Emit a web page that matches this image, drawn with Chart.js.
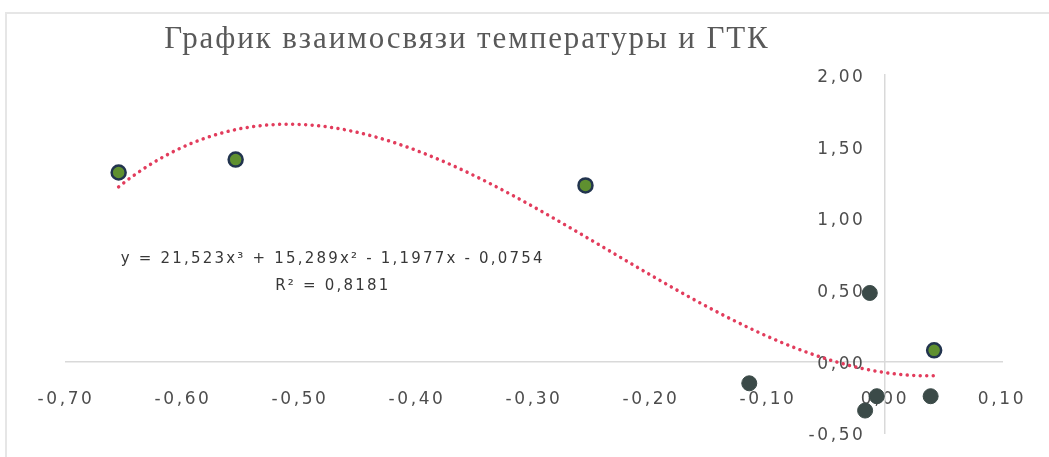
<!DOCTYPE html>
<html>
<head>
<meta charset="utf-8">
<script src="https://cdn.jsdelivr.net/npm/chart.js@4"></script>
<style>
  html, body { margin: 0; padding: 0; background: #fff; }
  #wrap { position: relative; width: 1049px; height: 457px; overflow: hidden; }
  #frame { position: absolute; left: 5px; top: 12px; right: -10px; bottom: -10px;
           border-top: 2px solid #e6e6e6; border-left: 2px solid #e6e6e6; }
  canvas { position: absolute; left: 0; top: 0; }
</style>
</head>
<body>
<div id="wrap"><div id="frame"></div><canvas id="c" width="1049" height="457"></canvas></div>
<script>
// Chart text
const chartTitle = 'График взаимосвязи температуры и ГТК';
const equationText = 'y = 21,523x³ + 15,289x² - 1,1977x - 0,0754';
const rSquaredText = 'R² = 0,8181';

// Observations: anomaly of temperature (x) vs. ГТК (y)
const greenX = [-0.655, -0.555, -0.256, 0.042];
const greenY = [1.32, 1.41, 1.23, 0.08];
const darkX = [-0.116, -0.013, -0.017, -0.007, 0.039];
const darkY = [-0.15, 0.48, -0.34, -0.24, -0.24];

// Cubic trend: coefficients of x³, x², x, 1
const trendCoef = [21.523, 15.289, -1.1977, -0.0754];

// Axis ticks
const xTicks = [-0.7, -0.6, -0.5, -0.4, -0.3, -0.2, -0.1, 0, 0.1];
const yTicks = [-0.5, 0, 0.5, 1, 1.5, 2];

// Position of the equation label, in data units
const eqAnchor = { x: -0.472, y: 0.69 };

const toPoints = (xs, ys) => xs.map((x, i) => ({ x, y: ys[i] }));
const fmt = v => (Math.abs(v) < 1e-9 ? 0 : v).toFixed(2).replace('.', ',');

const allX = greenX.concat(darkX);
const xFrom = Math.min(...allX), xTo = Math.max(...allX);
const trendPts = [];
for (let i = 0; i <= 140; i++) {
  const x = xFrom + (xTo - xFrom) * i / 140;
  const y = trendCoef[0] * x ** 3 + trendCoef[1] * x ** 2 + trendCoef[2] * x + trendCoef[3];
  trendPts.push({ x, y });
}

const tickFont = '17px "DejaVu Sans", sans-serif';
const tickColor = '#4d4d4d';

const textPlugin = {
  id: 'textPlugin',
  beforeDraw(chart) {
    chart.ctx.letterSpacing = '2.6px';
  },
  // y tick labels sit to the left of the vertical axis line at x = 0
  beforeDatasetsDraw(chart) {
    const ctx = chart.ctx;
    const xs = chart.scales.x, ys = chart.scales.y;
    const ax = xs.getPixelForValue(0);
    ctx.save();
    ctx.letterSpacing = '2.6px';
    ctx.font = tickFont;
    ctx.fillStyle = tickColor;
    ctx.textAlign = 'right';
    ctx.textBaseline = 'middle';
    ys.ticks.forEach(t => {
      ctx.fillText(fmt(t.value), ax - 19.5, ys.getPixelForValue(t.value) + 2.5);
    });
    ctx.restore();
  },
  afterDraw(chart) {
    const ctx = chart.ctx;
    ctx.save();
    // title
    ctx.letterSpacing = '1.9px';
    ctx.font = '31px "Liberation Serif", serif';
    ctx.fillStyle = '#595959';
    ctx.textAlign = 'center';
    ctx.textBaseline = 'alphabetic';
    ctx.fillText(chartTitle, 467, 48);
    // trend equation
    const px = chart.scales.x.getPixelForValue(eqAnchor.x);
    const py = chart.scales.y.getPixelForValue(eqAnchor.y);
    ctx.letterSpacing = '2.2px';
    ctx.font = '15px "DejaVu Sans", sans-serif';
    ctx.fillStyle = '#383838';
    ctx.fillText(equationText, px, py);
    ctx.fillText(rSquaredText, px, py + 27);
    ctx.restore();
    ctx.letterSpacing = '0px';
  }
};

new Chart(document.getElementById('c'), {
  type: 'scatter',
  data: {
    datasets: [
      {
        label: 'Тренд',
        data: trendPts,
        showLine: true,
        borderColor: '#e23c5c',
        borderWidth: 3.5,
        borderDash: [0.01, 6.5],
        borderCapStyle: 'round',
        pointRadius: 0,
        pointHoverRadius: 0,
        tension: 0,
        order: 3
      },
      {
        label: 'ГТК',
        data: toPoints(greenX, greenY),
        backgroundColor: '#5f9030',
        borderColor: '#22344f',
        borderWidth: 2.5,
        pointRadius: 7,
        order: 1
      },
      {
        label: 'ГТК (2)',
        data: toPoints(darkX, darkY),
        backgroundColor: '#3b4a48',
        borderColor: '#3b4a48',
        borderWidth: 1,
        pointRadius: 7.5,
        order: 0
      }
    ]
  },
  options: {
    responsive: false,
    animation: false,
    events: [],
    layout: { padding: { left: 66, right: 47, top: 75, bottom: 23.5 } },
    plugins: { legend: { display: false }, title: { display: false }, tooltip: { enabled: false } },
    scales: {
      x: {
        type: 'linear',
        min: -0.7, max: 0.1,
        position: { y: 0 },
        afterBuildTicks: s => { s.ticks = xTicks.map(v => ({ value: v })); },
        grid: { display: false, drawTicks: false },
        border: { display: true, color: '#d9d9d9', width: 1.5 },
        ticks: {
          padding: 27.5,
          maxRotation: 0,
          autoSkip: false,
          color: tickColor,
          font: { family: '"DejaVu Sans", sans-serif', size: 17 },
          callback: v => fmt(v)
        }
      },
      y: {
        type: 'linear',
        min: -0.5, max: 2,
        position: { x: 0 },
        afterBuildTicks: s => { s.ticks = yTicks.map(v => ({ value: v })); },
        grid: { display: false, drawTicks: false },
        border: { display: true, color: '#d9d9d9', width: 1.5 },
        ticks: { display: false, padding: 0 }
      }
    }
  },
  plugins: [textPlugin]
});
</script>
</body>
</html>
